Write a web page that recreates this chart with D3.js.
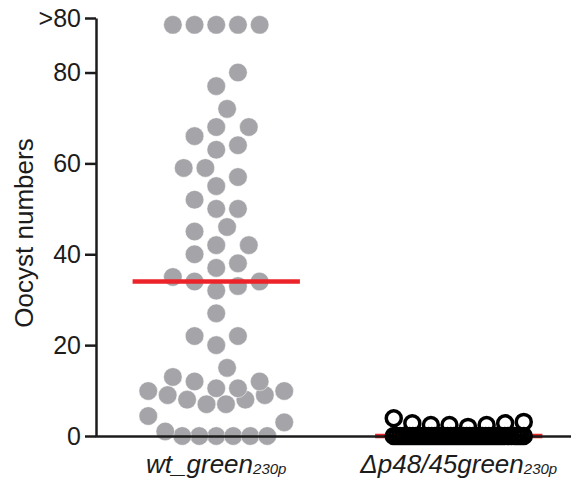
<!doctype html>
<html lang="en">
<head>
  <meta charset="utf-8">
  <script src="https://d3js.org/d3.v7.min.js"></script>
  <style>
    html, body { margin: 0; padding: 0; background: #fff; }
    svg { display: block; font-family: "Liberation Sans", Arial, sans-serif; }
  </style>
</head>
<body>
<script>
  // x categories and their subscripts
  var groups = ["wt_green", "\u0394p48/45green"];
  var groupSub = ["230p", "230p"];

  // oocyst counts per mosquito (90.5 = the ">80" bin)
  var wtValues = [90.5, 90.5, 90.5, 90.5, 90.5, 80, 77, 72, 68, 68, 66, 64, 63, 59, 59, 57, 55, 52, 50, 50,
    46, 45, 42, 42, 40, 38, 37, 35, 34, 34, 33, 32, 27, 22, 22, 20, 15, 13, 12, 12, 10.5, 10.5,
    9.9, 9.9, 9, 9, 8, 8, 7, 7, 4.4, 3, 1, 0, 0, 0, 0, 0, 0];
  var koValues = [3.9, 3.1, 2.8, 2.8, 2.4, 2.4, 2.4, 2,
    0, 0, 0, 0, 0, 0, 0, 0, 0, 0, 0, 0, 0, 0, 0, 0, 0, 0, 0, 0, 0,
    0, 0, 0, 0, 0, 0, 0, 0, 0, 0, 0, 0, 0, 0, 0, 0, 0, 0, 0, 0, 0];

  // y ticks
  var yTicks = [0, 20, 40, 60, 80, 92];
  var yTickLabels = ["0", "20", "40", "60", "80", ">80"];

  var ink = "#1c1c1c";
  var width = 571, height = 488;

  var svg = d3.select("body").append("svg")
    .attr("width", width)
    .attr("height", height);

  var y = d3.scaleLinear().domain([0, 92]).range([436, 18]);
  var x = d3.scaleBand().domain(groups).range([95, 580]);

  // prism-like scatter: values binned into rows; crowded rows are squeezed,
  // the others take the slot nearest the centre that keeps clear of other free dots
  function swarm(values, bin, d0, maxSpan, minDist) {
    var sorted = values.slice().sort(d3.ascending);
    var rows = d3.groups(sorted, function(v) { return Math.floor(v / bin); });
    var out = [], free = [];
    var h = d0 / 2;
    rows.forEach(function(r) {
      var vals = r[1], n = vals.length;
      var fit = n > 1 ? maxSpan / (n - 1) : d0;
      if (fit < d0) {
        vals.forEach(function(v, i) {
          var slot;
          if (n % 2) slot = (i % 2 ? 1 : -1) * Math.ceil(i / 2);
          else slot = (i % 2 ? -1 : 1) * (Math.floor(i / 2) + 0.5);
          out.push({ v: v, dx: slot * fit });
        });
        return;
      }
      vals.forEach(function(v) {
        var py = y(v);
        for (var j = 0; j < 40; j++) {
          var dx = (j % 2 ? 1 : -1) * Math.ceil(j / 2) * h;
          var hit = free.some(function(p) {
            return Math.hypot(p.dx - dx, y(p.v) - py) < minDist;
          });
          if (!hit) break;
        }
        var p = { v: v, dx: dx };
        out.push(p);
        free.push(p);
      });
    });
    return out;
  }

  var wtPts = swarm(wtValues, 5, 21.7, 136, 21);
  var koPts = swarm(koValues, 2, 19, 130, 8);

  // wt points (filled grey)
  svg.append("g")
    .selectAll("circle")
    .data(wtPts)
    .enter()
    .append("circle")
    .attr("cx", function(d) { return x(groups[0]) + x.bandwidth() / 2 + d.dx; })
    .attr("cy", function(d) { return y(d.v); })
    .attr("r", 9.3)
    .attr("fill", "#a4a4a9")
    .attr("stroke", "#fff")
    .attr("stroke-width", 0.5);

  // median lines
  var medians = [d3.median(wtValues), d3.median(koValues)];
  var half = x.bandwidth() * 0.345;
  svg.append("g")
    .selectAll("line")
    .data(groups)
    .enter()
    .append("line")
    .attr("x1", function(d) { return x(d) + x.bandwidth() / 2 - half; })
    .attr("x2", function(d) { return x(d) + x.bandwidth() / 2 + half; })
    .attr("y1", function(d, i) { return y(medians[i]); })
    .attr("y2", function(d, i) { return y(medians[i]); })
    .attr("stroke", "#ec2328")
    .attr("stroke-width", 4.5);

  // x axis
  var xAxis = svg.append("g")
    .attr("transform", "translate(0,436)")
    .call(d3.axisBottom(x).tickSize(0).tickPadding(0));
  xAxis.select(".domain").attr("stroke", ink).attr("stroke-width", 2.5);
  xAxis.selectAll(".tick text")
    .attr("dy", null)
    .attr("y", 37)
    .attr("fill", ink)
    .style("font-size", "26px")
    .style("font-style", "italic")
    .style("font-family", "'Liberation Sans', Arial, sans-serif")
    .text(null)
    .each(function(d, i) {
      var t = d3.select(this);
      t.append("tspan").text(d);
      t.append("tspan").attr("dy", 1).style("font-size", "15px").text(groupSub[i]);
    });

  // ko points (open circles), drawn over the axis and line
  svg.append("g")
    .selectAll("circle")
    .data(koPts)
    .enter()
    .append("circle")
    .attr("cx", function(d) { return x(groups[1]) + x.bandwidth() / 2 + d.dx; })
    .attr("cy", function(d) { return y(d.v); })
    .attr("r", 7.5)
    .attr("fill", "none")
    .attr("stroke", "#000")
    .attr("stroke-width", 3.5);

  // y axis
  var yAxis = svg.append("g")
    .attr("transform", "translate(96,0)")
    .call(d3.axisLeft(y).tickValues(yTicks)
      .tickFormat(function(d, i) { return yTickLabels[i]; })
      .tickSize(11).tickSizeOuter(0).tickPadding(4));
  yAxis.select(".domain").attr("stroke", ink).attr("stroke-width", 2.5);
  yAxis.selectAll(".tick line").attr("stroke", ink).attr("stroke-width", 2.5);
  yAxis.selectAll(".tick text")
    .attr("fill", ink)
    .style("font-size", "25px")
    .style("font-family", "'Liberation Sans', Arial, sans-serif");

  // y title
  svg.append("text")
    .attr("transform", "rotate(-90)")
    .attr("x", -233)
    .attr("y", 33)
    .attr("text-anchor", "middle")
    .attr("fill", ink)
    .style("font-size", "26px")
    .text("Oocyst numbers");
</script>
</body>
</html>
